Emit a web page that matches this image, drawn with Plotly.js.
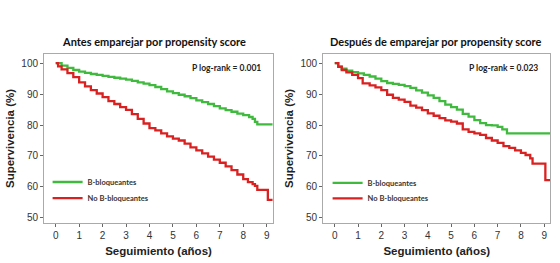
<!DOCTYPE html>
<html>
<head>
<meta charset="utf-8">
<script src="https://cdn.plot.ly/plotly-3.0.1.min.js"></script>
<style>html,body{margin:0;padding:0;background:#fff;}#chart{width:560px;height:263px;}</style>
</head>
<body>
<div id="chart"></div>
<script>
// Left panel: before matching
const leftGreenT = [0,0.25,0.5,0.75,1,1.25,1.5,1.75,2,2.25,2.5,2.75,3,3.25,3.5,3.75,4,4.25,4.5,4.75,5,5.25,5.5,5.75,6,6.25,6.5,6.75,7,7.25,7.5,7.75,8,8.25,8.4,8.5,8.6,9.25];
const leftGreenS = [100,99.2,98.5,97.8,97.3,96.9,96.5,96.2,95.9,95.6,95.3,95.0,94.7,94.3,93.8,93.4,92.9,92.3,91.6,90.9,90.3,89.8,89.3,88.7,88.0,87.4,86.8,86.1,85.4,84.8,84.3,83.7,83.2,82.6,82.0,81.0,80.2,80.2];
const leftRedT = [0,0.1,0.25,0.5,0.75,1,1.25,1.5,1.75,2,2.25,2.5,2.75,3,3.25,3.5,3.75,4,4.25,4.5,4.75,5,5.25,5.5,5.75,6,6.25,6.5,6.75,7,7.25,7.5,7.75,8,8.2,8.4,8.5,8.6,9.05,9.25];
const leftRedS = [100,99,98,96.8,95.5,93.8,92.5,91.3,90.2,89.0,87.7,86.8,85.8,84.9,83.5,82.0,80.5,79.0,78.3,77.3,76.3,75.6,75.0,74.0,72.8,71.8,70.8,69.8,68.8,67.8,66.6,65.4,64.0,62.5,61.5,60.9,60.3,59.0,55.8,55.8];
// Right panel: after matching
const rightGreenT = [0,0.15,0.3,0.5,0.75,1,1.25,1.5,1.75,2,2.25,2.5,2.75,3,3.25,3.5,3.75,4,4.25,4.5,4.75,5,5.25,5.5,5.75,6,6.25,6.5,6.75,7,7.2,7.4,9.25];
const rightGreenS = [100,99,98.2,97.6,97.1,96.7,96.2,95.7,95.0,94.2,93.6,93.3,93.0,92.6,92.0,91.2,90.5,89.6,88.8,87.7,86.6,85.8,85.0,83.6,82.7,81.6,80.6,80.0,79.9,79.4,78.6,77.3,77.3];
const rightRedT = [0,0.15,0.3,0.5,0.75,1,1.2,1.5,1.75,2,2.25,2.5,2.75,3,3.25,3.5,3.75,4,4.25,4.5,4.75,5,5.25,5.5,5.75,6,6.25,6.5,6.75,7,7.25,7.5,7.75,8,8.2,8.4,8.5,9.05,9.25];
const rightRedS = [100,98.8,97.8,97.0,96.2,95.2,93.5,92.8,92.2,91.3,89.8,88.8,88.2,87.5,86.3,85.6,84.8,83.8,83.0,82.2,81.5,81.1,80.5,78.6,77.8,77.3,76.8,75.8,75.0,74.2,73.2,72.6,71.8,71.0,70.3,69.2,67.5,62.2,62.2];

const seriesNames = ['B-bloqueantes','No B-bloqueantes'];
const titles = ['Antes emparejar por propensity score','Después de emparejar por propensity score'];
const pvals = ['P log-rank = 0.001','P log-rank = 0.023'];
const xTicks = [0,1,2,3,4,5,6,7,8,9];
const yTicks = [50,60,70,80,90,100];

const GREEN = '#3fba3f', RED = '#d92121';
function tr(x,y,name,color,xa,ya,leg){
  return {x:x,y:y,type:'scatter',mode:'lines',line:{shape:'hv',color:color,width:2.3},
    name:name,xaxis:xa,yaxis:ya,legend:leg,showlegend:true};
}
const data = [
  tr(leftGreenT,leftGreenS,seriesNames[0],GREEN,'x','y','legend'),
  tr(leftRedT,leftRedS,seriesNames[1],RED,'x','y','legend2'),
  tr(rightGreenT,rightGreenS,seriesNames[0],GREEN,'x2','y2','legend3'),
  tr(rightRedT,rightRedS,seriesNames[1],RED,'x2','y2','legend4')
];
const tickFont = {family:'Liberation Sans, Arial, sans-serif',size:10,color:'#333'};
const axTitleFont = {family:'Liberation Sans, Arial, sans-serif',size:11.5,color:'#222',weight:'bold'};
function xax(dom,anchor){
  return {domain:dom,anchor:anchor,range:[-0.5,9.27],tickvals:xTicks,ticks:'outside',ticklen:3,tickcolor:'#666',
    showline:true,mirror:true,linecolor:'#aaa',linewidth:1,showgrid:false,zeroline:false,tickfont:tickFont,
    title:{text:'<b>Seguimiento (años)</b>',font:axTitleFont,standoff:6}};
}
function yax(anchor){
  return {domain:[0.152,0.795],anchor:anchor,range:[48.3,103],tickvals:yTicks,ticks:'outside',ticklen:3,tickcolor:'#666',
    showline:true,mirror:true,linecolor:'#aaa',linewidth:1,showgrid:false,zeroline:false,tickfont:tickFont,
    title:{text:'<b>Supervivencia (%)</b>',font:axTitleFont,standoff:4}};
}
const legFont = {family:'Lato, sans-serif',size:7.5,color:'#333',weight:'bold'};
function leg(x,y){
  return {x:x,y:y,xanchor:'left',yanchor:'middle',bgcolor:'rgba(0,0,0,0)',font:legFont,tracegroupgap:0,itemwidth:30};
}
const layout = {
  width:560,height:263,margin:{l:0,r:0,t:0,b:0},paper_bgcolor:'#fff',plot_bgcolor:'#fff',
  xaxis:xax([0.0786,0.4875],'y'),yaxis:yax('x'),
  xaxis2:xax([0.577,0.983],'y2'),yaxis2:yax('x2'),
  legend:leg(0.085,0.308),
  legend2:leg(0.085,0.247),
  legend3:leg(0.585,0.305),
  legend4:leg(0.585,0.246),
  annotations:[
    {text:'<b>'+titles[0]+'</b>',xref:'paper',yref:'paper',x:0.2745,y:0.842,xanchor:'center',yanchor:'middle',showarrow:false,font:{family:'Lato, sans-serif',size:11,color:'#111'}},
    {text:'<b>'+titles[1]+'</b>',xref:'paper',yref:'paper',x:0.778,y:0.842,xanchor:'center',yanchor:'middle',showarrow:false,font:{family:'Lato, sans-serif',size:11,color:'#111'}},
    {text:'<b>'+pvals[0]+'</b>',xref:'paper',yref:'paper',x:0.47,y:0.743,xanchor:'right',yanchor:'middle',showarrow:false,font:{family:'Lato, sans-serif',size:8.5,color:'#222'}},
    {text:'<b>'+pvals[1]+'</b>',xref:'paper',yref:'paper',x:0.965,y:0.743,xanchor:'right',yanchor:'middle',showarrow:false,font:{family:'Lato, sans-serif',size:8.5,color:'#222'}}
  ]
};
Plotly.newPlot('chart',data,layout,{staticPlot:true,displayModeBar:false});
</script>
</body>
</html>
